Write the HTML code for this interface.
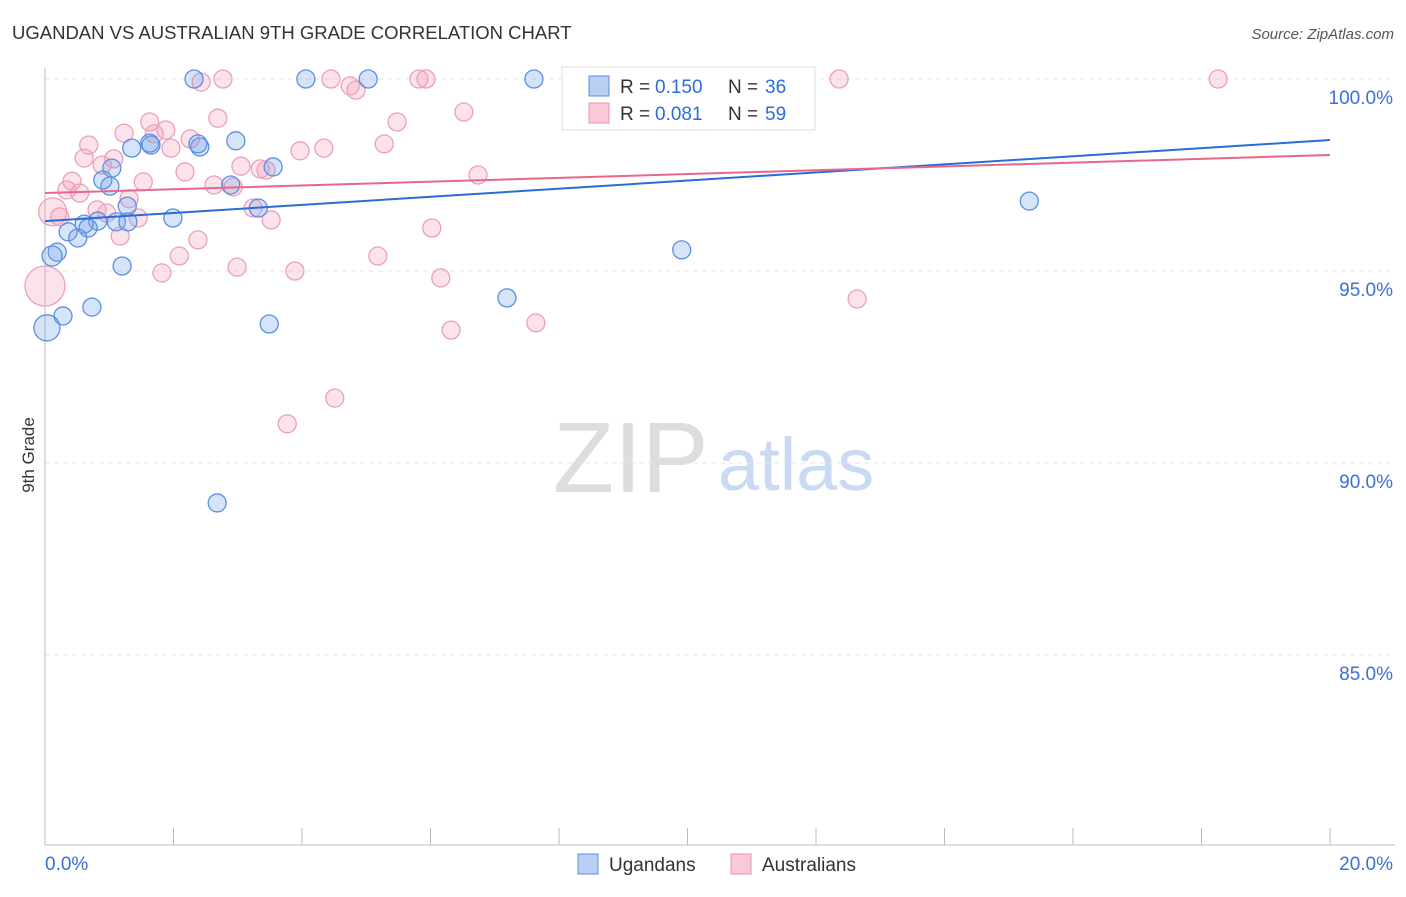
<!DOCTYPE html>
<html><head><meta charset="utf-8"><style>
body{margin:0;background:#fff;font-family:"Liberation Sans",sans-serif;}
svg text{font-family:"Liberation Sans",sans-serif;}
</style></head><body>
<svg id="c" width="1406" height="892" xmlns="http://www.w3.org/2000/svg">
<text x="12" y="39" font-size="18.5" fill="#333">UGANDAN VS AUSTRALIAN 9TH GRADE CORRELATION CHART</text>
<text x="1394" y="39" font-size="15" fill="#555" font-style="italic" text-anchor="end">Source: ZipAtlas.com</text>
<text transform="translate(34,455) rotate(-90)" font-size="17" fill="#333" text-anchor="middle">9th Grade</text>
<g>
<text x="553" y="492" font-size="100" font-family="Liberation Serif" fill="#ddd">ZIP</text>
<text x="718" y="490" font-size="74" fill="#c9daf2">atlas</text>
</g>
<g id="grid"></g><g id="marks"></g>
<g>
<rect x="562" y="67" width="253" height="63" fill="#fff" stroke="#ddd"/>
<rect x="589" y="76" width="20" height="20" fill="#b7d0f3" stroke="#5b8fe0"/>
<text x="620" y="93" font-size="19" fill="#333">R =</text>
<text x="655" y="93" font-size="19" fill="#2a6dd9">0.150</text>
<text x="728" y="93" font-size="19" fill="#333">N =</text>
<text x="765" y="93" font-size="19" fill="#2a6dd9">36</text>
<rect x="589" y="103" width="20" height="20" fill="#f9c9d8" stroke="#e890b0"/>
<text x="620" y="120" font-size="19" fill="#333">R =</text>
<text x="655" y="120" font-size="19" fill="#2a6dd9">0.081</text>
<text x="728" y="120" font-size="19" fill="#333">N =</text>
<text x="765" y="120" font-size="19" fill="#2a6dd9">59</text>
</g>
<g>
<rect x="578" y="854" width="20" height="20" fill="#b7d0f3" stroke="#5b8fe0"/>
<text x="609" y="871" font-size="19" fill="#333">Ugandans</text>
<rect x="731" y="854" width="20" height="20" fill="#f9c9d8" stroke="#e890b0"/>
<text x="762" y="871" font-size="19" fill="#333">Australians</text>
</g>
</svg>
<script>
const yTicks=[100,95,90,85];
const yTickLabels=["100.0%","95.0%","90.0%","85.0%"];
const xTickLabels=["0.0%","20.0%"];
const blueX=[2.32,4.06,5.03,7.61,2.97,1.35,1.65,2.41,2.38,1.04,0.90,1.01,2.89,3.55,1.28,3.32,1.99,1.11,0.82,0.61,0.36,0.67,0.51,0.19,0.11,1.20,9.91,15.32,0.73,0.28,0.03,3.49,7.19,2.68,1.63,1.29];
const blueY=[100,100,100,100,98.39,98.20,98.28,98.23,98.31,97.68,97.37,97.21,97.24,97.71,96.69,96.64,96.38,96.28,96.30,96.22,96.02,96.12,95.86,95.49,95.39,95.13,95.55,96.82,94.06,93.83,93.52,93.62,94.30,88.96,98.33,96.28];
const blueBig={30:13,24:10};
const pinkX=[2.43,2.77,4.45,4.75,4.84,5.82,5.93,12.36,18.26,1.63,2.69,6.52,5.48,1.23,1.70,1.88,2.26,0.68,1.96,3.97,4.34,5.28,0.61,1.07,0.89,3.05,3.35,3.44,2.18,1.53,0.42,2.63,2.93,6.74,0.34,0.54,1.31,0.81,0.96,0.12,1.45,0.23,3.24,3.52,1.17,6.02,2.38,2.09,5.18,2.99,3.89,1.82,6.16,12.64,6.32,7.64,4.51,3.77,0.0];
const pinkY=[99.92,100,100,99.82,99.71,100,100,100,100,98.88,98.98,99.14,98.88,98.59,98.57,98.67,98.44,98.28,98.20,98.13,98.20,98.31,97.94,97.92,97.76,97.73,97.66,97.63,97.58,97.32,97.34,97.24,97.19,97.50,97.11,97.03,96.88,96.59,96.51,96.54,96.38,96.41,96.64,96.33,95.91,96.12,95.81,95.39,95.39,95.10,95.00,94.95,94.82,94.27,93.46,93.65,91.69,91.02,94.61];
const pinkBig={39:14,58:20};
const blueTrend=[96.30,98.41];
const pinkTrend=[97.03,98.02];
const X0=45,X1=1330,Y100=79,PXPER=38.4;
const sx=v=>X0+(v/20)*(X1-X0);
const sy=v=>Y100+(100-v)*PXPER;
const NS="http://www.w3.org/2000/svg";
const grid=document.getElementById('grid'),marks=document.getElementById('marks');
function mk(tag,a,p){const e=document.createElementNS(NS,tag);for(const k in a)e.setAttribute(k,a[k]);p.appendChild(e);return e;}
yTicks.forEach((t,i)=>{
 const l=mk('line',{x1:45,x2:1395,y1:sy(t),y2:sy(t),stroke:'#e4e4e4','stroke-dasharray':'5,4'},grid);
 
 
 const tx=mk('text',{x:1393,y:sy(t)+25,'font-size':19,fill:'#3b6fd4','text-anchor':'end'},grid);
 tx.textContent=yTickLabels[i];
 
 
});
const ya=mk('line',{x1:45,x2:45,y1:68,y2:845,stroke:'#bbb'},grid);


const xa=mk('line',{x1:45,x2:1395,y1:845,y2:845,stroke:'#bbb'},grid);


for(let i=0;i<=10;i++){
 const tk=mk('line',{x1:sx(i*2),x2:sx(i*2),y1:828,y2:845,stroke:'#bbb'},grid);
 
 
}
xTickLabels.forEach((s,i)=>{
 const tx=mk('text',{x:i?1393:45,y:870,'font-size':19,fill:'#3b6fd4','text-anchor':i?'end':'start'},grid);
 tx.textContent=s;
 
 
});
pinkX.forEach((x,i)=>{
 const c=mk('circle',{cx:sx(x),cy:sy(pinkY[i]),r:pinkBig[i]||9,fill:'rgba(244,160,188,0.3)',stroke:'#eba0ba','stroke-width':1.3},marks);
 
 
});
blueX.forEach((x,i)=>{
 const c=mk('circle',{cx:sx(x),cy:sy(blueY[i]),r:blueBig[i]||9,fill:'rgba(120,165,235,0.3)',stroke:'#5b8fe0','stroke-width':1.3},marks);
 
 
});
const bl=mk('line',{x1:sx(0),x2:sx(20),y1:sy(blueTrend[0]),y2:sy(blueTrend[1]),stroke:'#2a6dd9','stroke-width':2},marks);


const pl=mk('line',{x1:sx(0),x2:sx(20),y1:sy(pinkTrend[0]),y2:sy(pinkTrend[1]),stroke:'#e8678f','stroke-width':2},marks);


</script>
</body></html>
